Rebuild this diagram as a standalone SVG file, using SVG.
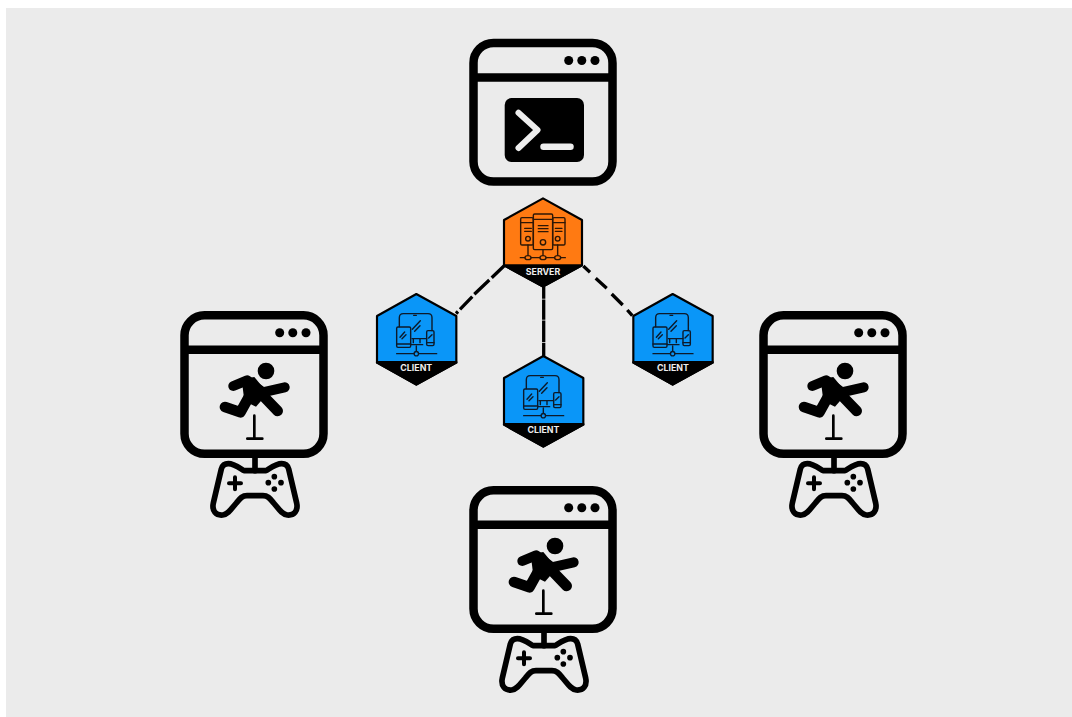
<svg xmlns="http://www.w3.org/2000/svg" xmlns:xlink="http://www.w3.org/1999/xlink" width="1072" height="717" viewBox="0 0 1072 717">
<style>
.k{fill:none;stroke:#000;stroke-linecap:round;stroke-linejoin:round}
.frame{fill:none;stroke:#000;stroke-width:8.500}
.ic{fill:none;stroke:#0d1a2a;stroke-width:4.200;stroke-linecap:round;stroke-linejoin:round}
.lbl{font-family:"Inter","Liberation Sans",sans-serif;font-weight:700;font-size:8.800px;fill:#eee;text-anchor:middle}
.conn{fill:none;stroke:#000;stroke-width:3.300}
</style>
<defs>
<g id="win">
<rect class="frame" x="473.500" y="43" width="139" height="138.500" rx="20"/>
<path class="frame" d="M473.500 77.500H612.500"/>
<circle cx="568.700" cy="60.500" r="4.500"/><circle cx="581.800" cy="60.500" r="4.500"/><circle cx="595" cy="60.500" r="4.500"/>
</g>
<g id="game">
<use href="#win" y="447.300"/>
<g transform="translate(460 480) scale(.33333)">
<circle cx="285" cy="198" r="25"/>
<path class="k" stroke-width="30" d="M187 243L228 226L275 262L341 247"/>
<path d="M212 222L250 216L290 265L255 305L220 288Z"/>
<path class="k" stroke-width="32" d="M272 268L320 318"/>
<path class="k" stroke-width="32" d="M238 268L208 322L162 306"/>
<path class="k" stroke-width="8" d="M250 332V400M229 401H274"/>
<path class="k" stroke-width="17" d="M252 455V497"/>
<path class="k" stroke-width="17" d="M172 476C160 476 154 482 151 492L127 594C122 618 135 632 155 630C172 628 182 610 196 594C208 578 215 572 228 572H276C289 572 296 578 308 594C322 610 332 628 349 630C369 632 382 618 377 594L353 492C350 482 344 476 332 476C316 476 300 488 285 497H219C204 488 188 476 172 476Z"/>
<path class="k" stroke-width="12" d="M192 517V553M174 535H210"/>
<circle cx="310" cy="515" r="8.500"/><circle cx="292" cy="533" r="8.500"/><circle cx="330" cy="533" r="8.500"/><circle cx="310" cy="552" r="8.500"/>
</g>
</g>
<g id="devices">
<path class="ic" d="M88 410V383Q88 371 100 371H174Q186 371 186 383V422M126 446H170M130 446V458M150 446V458M122 464H158"/>
<path class="ic" d="M131 376H139"/>
<path class="ic" d="M127 418L151 392M134 424L150 407"/>
<rect class="ic" x="80" y="411" width="42" height="61" rx="4"/>
<path class="ic" d="M80 462H122M90 442L104 426M96 446L108 434"/>
<rect class="ic" x="170" y="422" width="22" height="45" rx="4"/>
<path class="ic" d="M170 458H192M176 444L186 434"/>
<path class="ic" d="M80 491H200M139 468V484"/>
<circle cx="139" cy="491" r="6.500" fill="#0a96f8" stroke="#0d1a2a" stroke-width="4"/>
</g>
<g id="clienthex">
<path d="M139 312L259 378V518L139 584L21 518V378Z" fill="#0a96f8" stroke="#000" stroke-width="6.500" stroke-linejoin="round"/>
<path d="M21 516H259V518L139 584L21 518Z" fill="#000" stroke="#000" stroke-width="6.500" stroke-linejoin="round"/>
<use href="#devices"/>
</g>
</defs>

<rect x="6" y="8" width="1066" height="709" fill="#ebebeb"/>

<g id="connectors">
<path class="conn" d="M505 265L491.700 277.700M489.300 280L474.300 294.300M472.300 296.700L460 309.300M458 311.500L456 313.500"/>
<path class="conn" d="M583.300 266L590 272.300M595.700 278.300L606.700 288.300M611.700 294L622.700 305M627.300 310L632.300 315.700"/>
<path class="conn" d="M543.700 287V298.700M543.700 299.500V319.700M543.700 320.500V342M543.700 342.800V358"/>
</g>

<g id="window-terminal">
<use href="#win"/>
<rect x="504.700" y="98" width="79.300" height="64" rx="7"/>
<path d="M518.500 112.700L537.500 130L518.500 148" fill="none" stroke="#eee" stroke-width="6" stroke-linecap="round" stroke-linejoin="round"/>
<path d="M543.500 146.700H570.500" fill="none" stroke="#eee" stroke-width="6.500" stroke-linecap="round"/>
</g>

<g id="window-left"><use href="#game" transform="translate(-289 -175)"/></g>
<g id="window-right"><use href="#game" transform="translate(290 -175)"/></g>
<g id="window-bottom"><use href="#game"/></g>

<g id="node-server" transform="translate(370 190) scale(.33333)">
<path d="M519 25L636 90V226L519 290L402 226V90Z" fill="#ff7a12" stroke="#000" stroke-width="6.500" stroke-linejoin="round"/>
<path d="M402 226H636L519 290Z" fill="#000" stroke="#000" stroke-width="6.500" stroke-linejoin="round"/>
<g stroke="#2e1706" fill="none" stroke-width="4.200" stroke-linecap="round">
<rect x="452" y="83" width="38" height="82" rx="4"/>
<rect x="548" y="83" width="37" height="82" rx="4"/>
<rect x="490" y="72" width="58" height="107" rx="4"/>
<path d="M452 98H490M548 98H585M490 88H548M464 115H484M464 124H484M556 115H576M556 124H576M505 107H534M505 116H534M505 125H534"/>
<circle cx="474" cy="146" r="7"/><circle cx="563" cy="146" r="7"/><circle cx="519" cy="157" r="8"/>
<path d="M474 165V196M519 179V196M563 165V196M451 203H586"/>
<ellipse cx="474" cy="203" rx="9" ry="6" fill="#ff7a12"/><ellipse cx="519" cy="203" rx="9" ry="6" fill="#ff7a12"/><ellipse cx="563" cy="203" rx="9" ry="6" fill="#ff7a12"/>
</g>
</g>
<text class="lbl" x="543" y="274.500">SERVER</text>

<g id="node-client-left" transform="translate(370 190) scale(.33333)"><use href="#clienthex"/></g>
<text class="lbl" x="416.300" y="371">CLIENT</text>
<g id="node-client-right" transform="translate(370 190) scale(.33333)"><use href="#clienthex" x="769"/></g>
<text class="lbl" x="673" y="371">CLIENT</text>
<g id="node-client-bottom" transform="translate(370 190) scale(.33333)"><use href="#clienthex" x="381" y="186"/></g>
<text class="lbl" x="543.500" y="432.500">CLIENT</text>
</svg>
